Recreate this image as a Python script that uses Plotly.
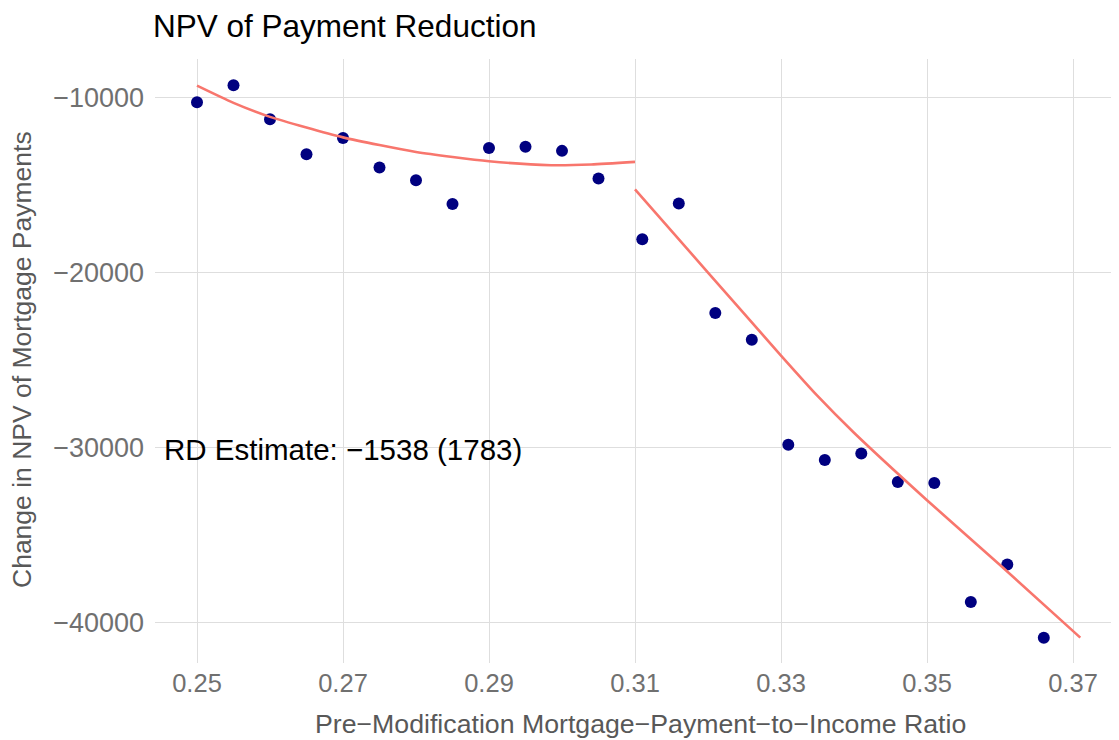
"""RD plot: NPV of payment reduction around the 0.31 PTI cutoff."""

import plotly.graph_objects as go

# binned means
bin_x = [0.250, 0.255, 0.260, 0.265, 0.270, 0.275, 0.280, 0.285, 0.290, 0.295,
         0.300, 0.305, 0.311, 0.316, 0.321, 0.326, 0.331, 0.336, 0.341, 0.346,
         0.351, 0.356, 0.361, 0.366]
bin_y = [-10290, -9330, -11260, -13260, -12340, -14020, -14740, -16100, -12900, -12840,
         -13070, -14650, -18110, -16070, -22320, -23850, -29830, -30700, -30340, -31960,
         -32020, -38800, -36670, -40840]

# fitted lines, left and right of the cutoff
fit_left_x = [0.250, 0.255, 0.260, 0.270, 0.280, 0.290, 0.2985, 0.304, 0.310]
fit_left_y = [-9350, -10330, -11130, -12300, -13130, -13660, -13890, -13850, -13700]
fit_right_x = [0.310, 0.320, 0.330, 0.335, 0.340, 0.350, 0.360, 0.371]
fit_right_y = [-15270, -20010, -24750, -27050, -29150, -33000, -36700, -40840]

x_ticks = [0.25, 0.27, 0.29, 0.31, 0.33, 0.35, 0.37]
y_ticks = [-10000, -20000, -30000, -40000]

MINUS = "\u2212"
FONT = "Liberation Sans, Arial, sans-serif"
LINE_COLOR = "#F8766D"
POINT_COLOR = "#000080"
GRID = "#DEDEDE"
TICK_GREY = "#707070"
TITLE_GREY = "#585858"

# page gets an 8px body margin, so the figure is a bit smaller than the window
W, H = 1111, 732
L, R, T, B = 147, 6, 51, 77
plot_w, plot_h = W - L - R, H - T - B

fig = go.Figure()
fig.add_trace(go.Scatter(
    x=bin_x, y=bin_y, mode="markers",
    marker=dict(color=POINT_COLOR, size=12),
    showlegend=False,
))
for xs, ys in [(fit_left_x, fit_left_y), (fit_right_x, fit_right_y)]:
    fig.add_trace(go.Scatter(
        x=xs, y=ys, mode="lines",
        line=dict(color=LINE_COLOR, width=2.6, shape="spline", smoothing=0.6),
        showlegend=False,
    ))

fig.add_annotation(
    x=0.27, y=-30100, text=f"RD Estimate: {MINUS}1538 (1783)",
    showarrow=False, xanchor="center", yanchor="middle",
    font=dict(size=29.5, color="black", family=FONT),
)
# axis titles placed by hand
fig.add_annotation(
    xref="paper", yref="paper",
    x=(632 - L) / plot_w, y=(T + plot_h - 716) / plot_h,
    text="Pre\u2212Modification Mortgage\u2212Payment\u2212to\u2212Income Ratio",
    showarrow=False, xanchor="center", yanchor="middle",
    font=dict(size=26.7, color=TITLE_GREY, family=FONT),
)
fig.add_annotation(
    xref="paper", yref="paper",
    x=(14 - L) / plot_w, y=(T + plot_h - 352) / plot_h,
    text="Change in NPV of Mortgage Payments", textangle=-90,
    showarrow=False, xanchor="center", yanchor="middle",
    font=dict(size=26.5, color=TITLE_GREY, family=FONT),
)

fig.update_layout(
    width=W, height=H,
    margin=dict(l=L, r=R, t=T, b=B, autoexpand=False),
    paper_bgcolor="white", plot_bgcolor="white",
    font=dict(family=FONT),
    title=dict(
        text="NPV of Payment Reduction",
        x=145 / W, xref="container", xanchor="left",
        y=1 - 18 / H, yref="container", yanchor="middle",
        font=dict(size=31.5, color="black", family=FONT),
        automargin=False,
    ),
    xaxis=dict(
        range=[0.244247, 0.375479], automargin=False,
        tickvals=x_ticks, ticktext=[f"{v:.2f}" for v in x_ticks],
        showgrid=True, gridcolor=GRID, gridwidth=1,
        zeroline=False, showline=False, ticks="",
        ticklabelstandoff=2,
        tickfont=dict(size=25.5, color=TICK_GREY),
    ),
    yaxis=dict(
        range=[-42286, -7829], automargin=False,
        tickvals=y_ticks, ticktext=[f"{MINUS}{abs(v)}" for v in y_ticks],
        showgrid=True, gridcolor=GRID, gridwidth=1,
        zeroline=False, showline=False, ticks="",
        ticklabelstandoff=10,
        tickfont=dict(size=27, color=TICK_GREY),
    ),
)

fig.write_html("out.html")
